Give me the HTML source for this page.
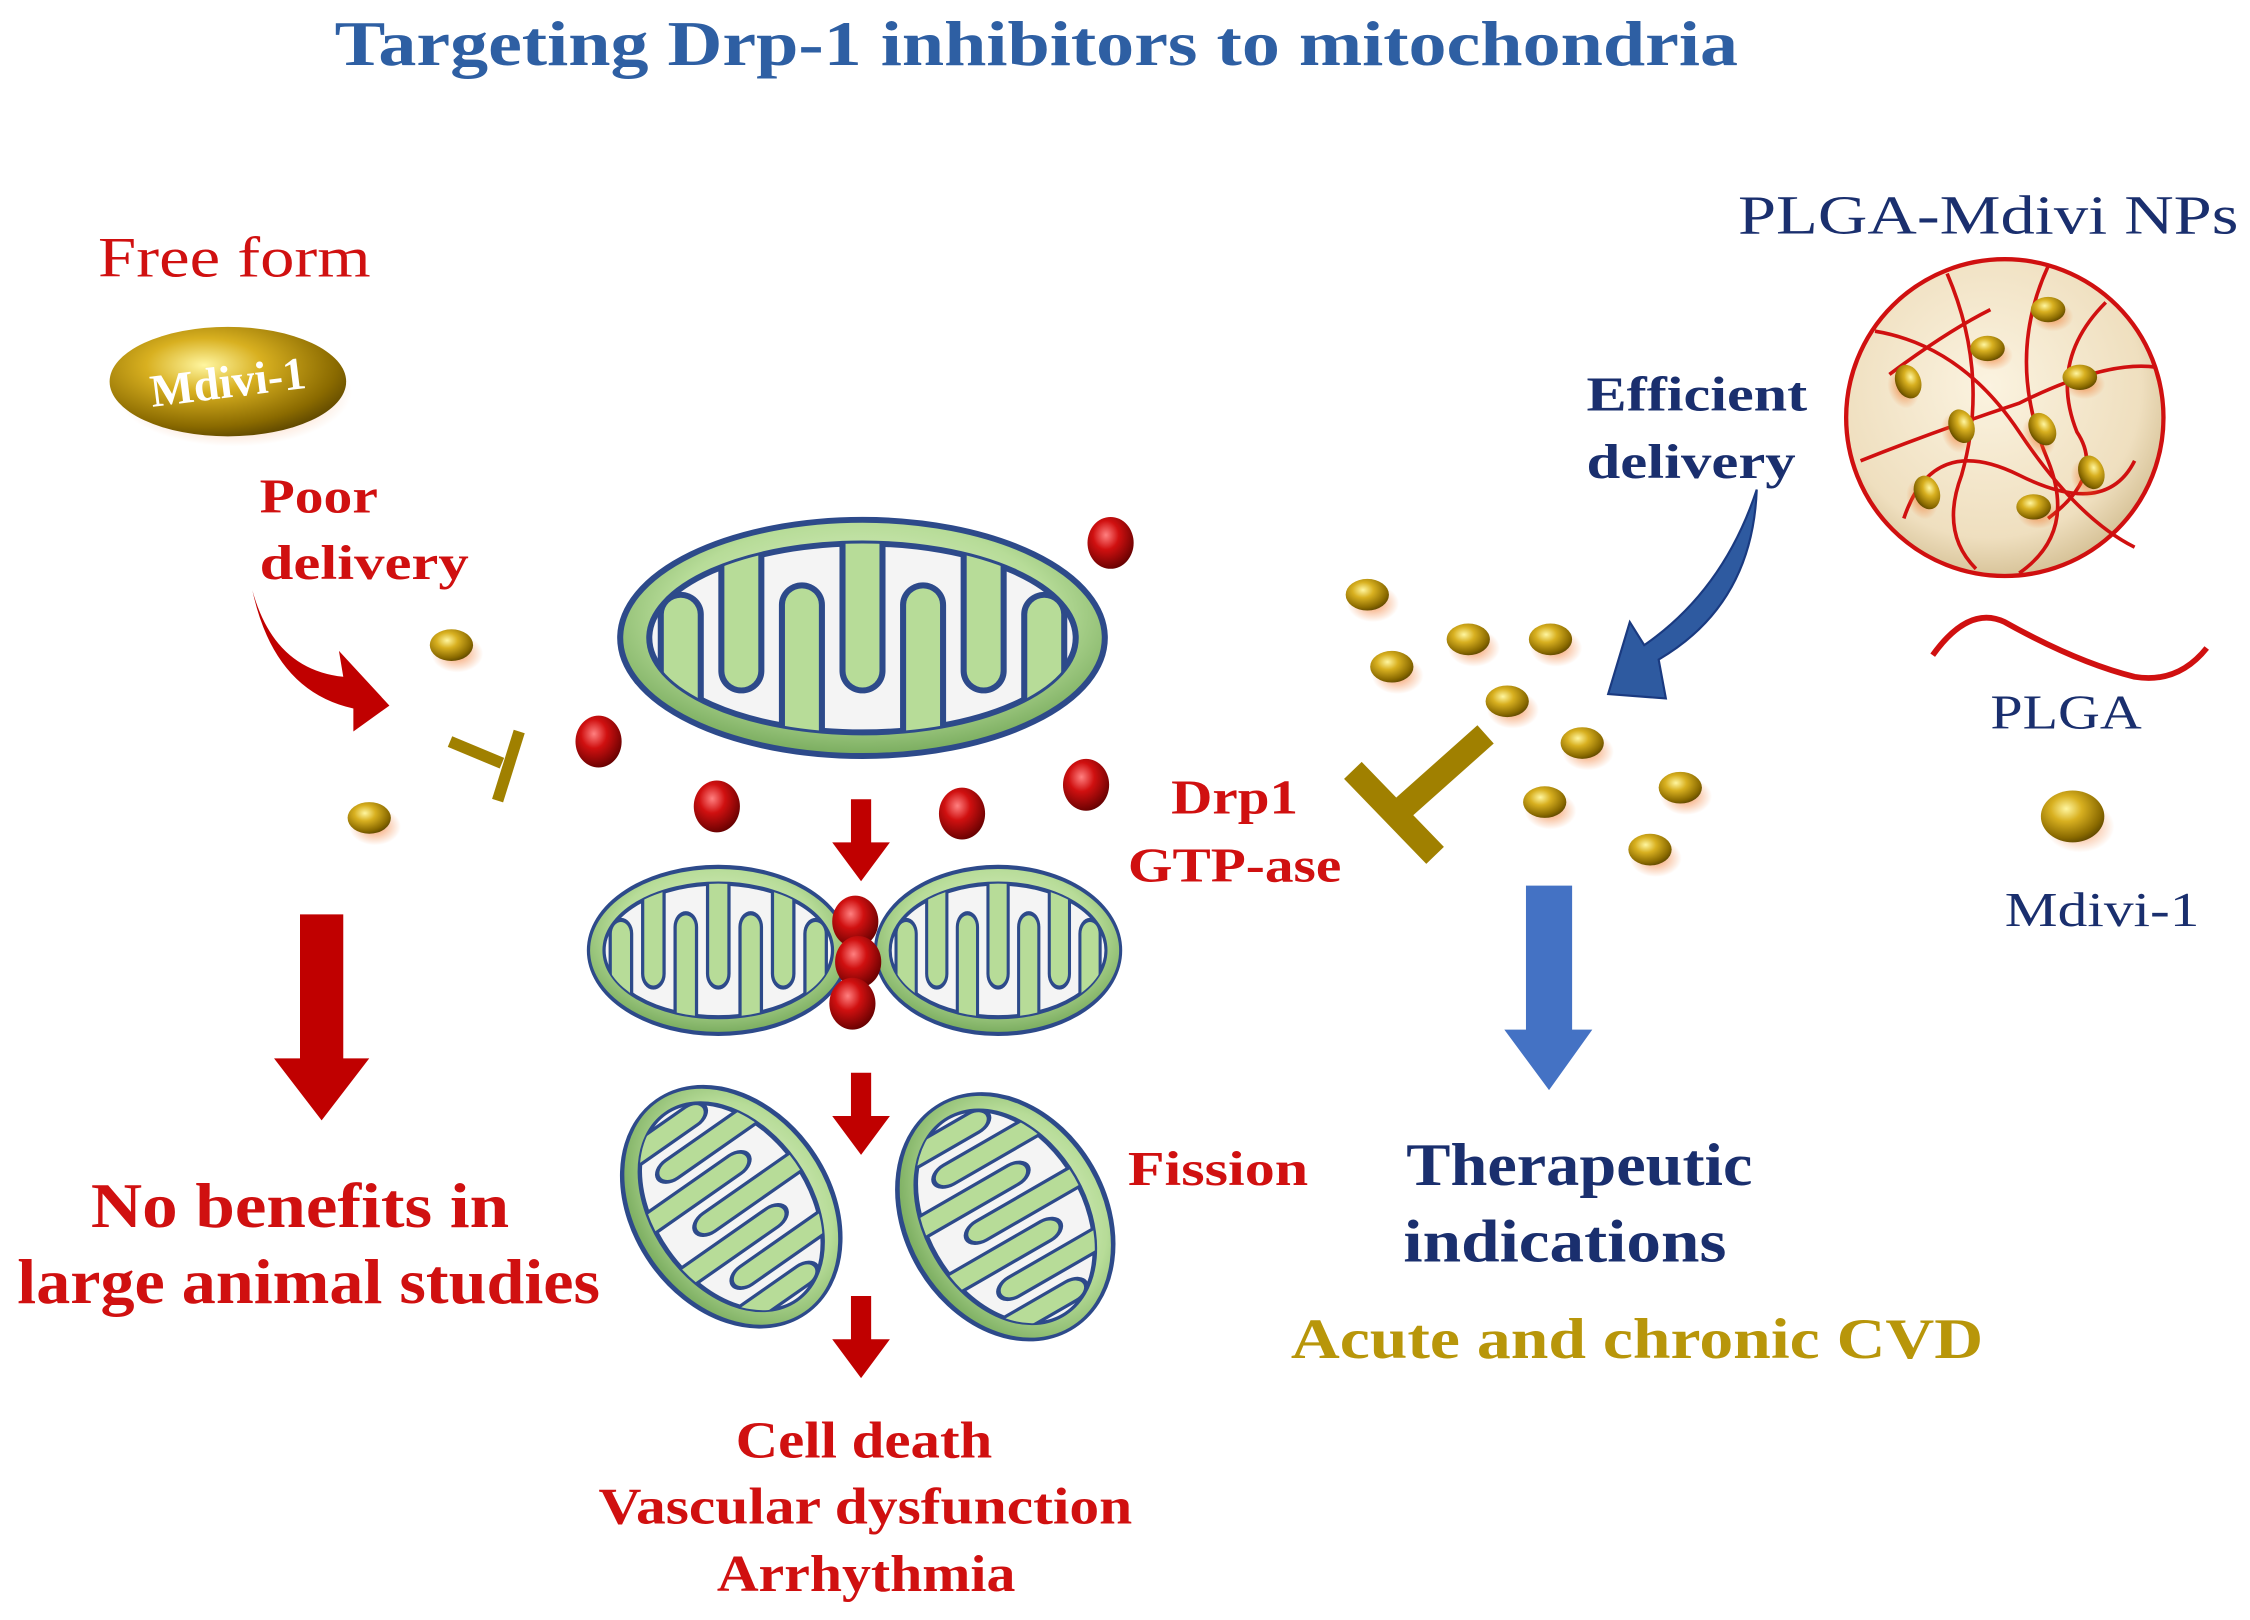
<!DOCTYPE html>
<html><head><meta charset="utf-8"><style>
html,body{margin:0;padding:0;background:#fff;}
svg{display:block}
text{font-family:"Liberation Serif",serif;}
</style></head><body>
<svg width="2250" height="1620" viewBox="0 0 1560 1125" preserveAspectRatio="none" xmlns="http://www.w3.org/2000/svg">
<defs>
<radialGradient id="gold" cx="0.4" cy="0.35" r="0.7">
<stop offset="0" stop-color="#fff6a0"/><stop offset="0.35" stop-color="#d8b020"/><stop offset="0.8" stop-color="#8a6a00"/><stop offset="1" stop-color="#5a4400"/></radialGradient>
<radialGradient id="red" cx="0.4" cy="0.35" r="0.7">
<stop offset="0" stop-color="#ff8080"/><stop offset="0.4" stop-color="#d01010"/><stop offset="1" stop-color="#600000"/></radialGradient>
<radialGradient id="green" cx="0.5" cy="0.4" r="0.65">
<stop offset="0" stop-color="#e6f4d4"/><stop offset="0.6" stop-color="#b7dc98"/><stop offset="1" stop-color="#6aa050"/></radialGradient>
<radialGradient id="cream" cx="0.45" cy="0.4" r="0.6">
<stop offset="0" stop-color="#fbf3e0"/><stop offset="0.8" stop-color="#efdfbf"/><stop offset="1" stop-color="#d8c49a"/></radialGradient>
<radialGradient id="shadow" cx="0.5" cy="0.5" r="0.5">
<stop offset="0" stop-color="#f07020" stop-opacity="0.7"/><stop offset="1" stop-color="#f07020" stop-opacity="0"/></radialGradient>
<clipPath id="inner"><ellipse cx="0" cy="0" rx="88" ry="40"/></clipPath>
<g id="mito">
<ellipse cx="0" cy="0" rx="100" ry="50" fill="url(#green)" stroke="#2d4a8a" stroke-width="2.5"/>
<ellipse cx="0" cy="0" rx="88" ry="40" fill="#f4f4f4" stroke="#2d4a8a" stroke-width="2.5"/>
<g clip-path="url(#inner)" stroke-linecap="round">
<g stroke="#2d4a8a" stroke-width="19">
<line x1="-50" y1="-45" x2="-50" y2="14"/><line x1="0" y1="-45" x2="0" y2="14"/><line x1="50" y1="-45" x2="50" y2="14"/>
<line x1="-75" y1="45" x2="-75" y2="-10"/><line x1="-25" y1="45" x2="-25" y2="-14"/><line x1="25" y1="45" x2="25" y2="-14"/><line x1="75" y1="45" x2="75" y2="-10"/>
</g>
<g stroke="#b7dc98" stroke-width="14">
<line x1="-50" y1="-45" x2="-50" y2="14"/><line x1="0" y1="-45" x2="0" y2="14"/><line x1="50" y1="-45" x2="50" y2="14"/>
<line x1="-75" y1="45" x2="-75" y2="-10"/><line x1="-25" y1="45" x2="-25" y2="-14"/><line x1="25" y1="45" x2="25" y2="-14"/><line x1="75" y1="45" x2="75" y2="-10"/>
</g></g></g>
<g id="gb">
<ellipse cx="4" cy="6" rx="18" ry="13" fill="url(#shadow)"/>
<ellipse cx="0" cy="0" rx="15" ry="11" fill="url(#gold)"/>
</g>
<g id="rb">
<ellipse cx="0" cy="0" rx="16" ry="18" fill="url(#red)"/>
</g>
</defs>

<text x="232" y="45" textLength="973" lengthAdjust="spacingAndGlyphs" font-size="44" font-weight="bold" fill="#2e5fa3">Targeting Drp-1 inhibitors to mitochondria</text>

<!-- left -->
<text x="68" y="192" textLength="189" lengthAdjust="spacingAndGlyphs" font-size="40" fill="#d01010">Free form</text>
<ellipse cx="162" cy="272" rx="82" ry="38" fill="url(#shadow)"/>
<ellipse cx="158" cy="265" rx="82" ry="38" fill="url(#gold)"/>
<text x="158" y="276" text-anchor="middle" font-size="32" font-weight="bold" fill="#fff" transform="rotate(-7 158 265)">Mdivi-1</text>
<text x="180" y="356" textLength="82" lengthAdjust="spacingAndGlyphs" font-size="34" font-weight="bold" fill="#d01010">Poor</text>
<text x="180" y="402" textLength="145" lengthAdjust="spacingAndGlyphs" font-size="34" font-weight="bold" fill="#d01010">delivery</text>
<path d="M175,410 Q190,465 238,470 L235,452 L270,490 L245,508 L245,492 Q190,480 175,410 Z" fill="#c00000"/>
<use href="#gb" x="313" y="448"/>
<use href="#gb" x="256" y="568"/>
<line x1="312" y1="515" x2="348" y2="530" stroke="#a08000" stroke-width="8"/>
<line x1="360" y1="508" x2="345" y2="556" stroke="#a08000" stroke-width="8"/>
<polygon points="208,635 238,635 238,735 256,735 223,778 190,735 208,735" fill="#c00000"/>
<text x="63" y="852" textLength="290" lengthAdjust="spacingAndGlyphs" font-size="44" font-weight="bold" fill="#d01010">No benefits in</text>
<text x="12" y="905" textLength="404" lengthAdjust="spacingAndGlyphs" font-size="44" font-weight="bold" fill="#d01010">large animal studies</text>

<!-- center -->
<use href="#mito" transform="translate(598,443) scale(1.68,1.64)"/>
<use href="#rb" x="770" y="377"/>
<use href="#rb" x="415" y="515"/>
<use href="#rb" x="497" y="560"/>
<use href="#rb" x="667" y="565"/>
<use href="#rb" x="753" y="545"/>
<polygon points="590,555 604,555 604,585 617,585 597,612 577,585 590,585" fill="#c00000"/>
<use href="#mito" transform="translate(498,660) scale(0.9,1.16)"/>
<use href="#mito" transform="translate(692,660) scale(0.85,1.16)"/>
<use href="#rb" x="593" y="640"/>
<use href="#rb" x="595" y="668"/>
<use href="#rb" x="591" y="697"/>
<polygon points="590,745 604,745 604,775 617,775 597,802 577,775 590,775" fill="#c00000"/>
<use href="#mito" transform="translate(507,838) rotate(55) scale(0.9,1.35)"/>
<use href="#mito" transform="translate(697,845) rotate(60) scale(0.9,1.38)"/>
<polygon points="590,900 604,900 604,930 617,930 597,957 577,930 590,930" fill="#c00000"/>
<text x="510" y="1012" textLength="178" lengthAdjust="spacingAndGlyphs" font-size="36" font-weight="bold" fill="#d01010">Cell death</text>
<text x="415" y="1058" textLength="370" lengthAdjust="spacingAndGlyphs" font-size="36" font-weight="bold" fill="#d01010">Vascular dysfunction</text>
<text x="497" y="1105" textLength="207" lengthAdjust="spacingAndGlyphs" font-size="36" font-weight="bold" fill="#d01010">Arrhythmia</text>
<text x="782" y="823" textLength="125" lengthAdjust="spacingAndGlyphs" font-size="34" font-weight="bold" fill="#d01010">Fission</text>
<text x="812" y="565" textLength="88" lengthAdjust="spacingAndGlyphs" font-size="34" font-weight="bold" fill="#d01010">Drp1</text>
<text x="782" y="612" textLength="148" lengthAdjust="spacingAndGlyphs" font-size="34" font-weight="bold" fill="#d01010">GTP-ase</text>

<!-- right -->
<line x1="1030" y1="510" x2="965" y2="568" stroke="#a08000" stroke-width="17"/>
<line x1="938" y1="535" x2="995" y2="594" stroke="#a08000" stroke-width="17"/>
<use href="#gb" x="948" y="413"/>
<use href="#gb" x="965" y="463"/>
<use href="#gb" x="1018" y="444"/>
<use href="#gb" x="1075" y="444"/>
<use href="#gb" x="1045" y="487"/>
<use href="#gb" x="1097" y="516"/>
<use href="#gb" x="1165" y="547"/>
<use href="#gb" x="1071" y="557"/>
<use href="#gb" x="1144" y="590"/>
<polygon points="1058,615 1090,615 1090,715 1104,715 1074,757 1043,715 1058,715" fill="#4472c4"/>
<text x="975" y="823" textLength="240" lengthAdjust="spacingAndGlyphs" font-size="42" font-weight="bold" fill="#1a2f6e">Therapeutic</text>
<text x="973" y="876" textLength="224" lengthAdjust="spacingAndGlyphs" font-size="42" font-weight="bold" fill="#1a2f6e">indications</text>
<text x="895" y="943" textLength="480" lengthAdjust="spacingAndGlyphs" font-size="40" font-weight="bold" fill="#b8960a">Acute and chronic CVD</text>

<text x="1205" y="162" textLength="347" lengthAdjust="spacingAndGlyphs" font-size="38" fill="#1a2f6e">PLGA-Mdivi NPs</text>
<circle cx="1390" cy="290" r="110" fill="url(#cream)" stroke="#d01010" stroke-width="3"/>
<g fill="none" stroke="#d01010" stroke-width="2.5">
<path d="M1300,230 Q1360,240 1400,300 Q1440,360 1480,380"/>
<path d="M1350,190 Q1380,260 1360,330 Q1345,370 1370,395"/>
<path d="M1290,320 Q1340,300 1400,280 Q1460,250 1495,255"/>
<path d="M1420,185 Q1390,250 1420,320 Q1440,370 1400,398"/>
<path d="M1320,360 Q1340,300 1400,330 Q1460,360 1480,320"/>
<path d="M1460,210 Q1420,250 1440,300 Q1460,330 1420,360"/>
<path d="M1310,260 Q1350,230 1380,215"/>
</g>
<use href="#gb" transform="translate(1420,215) scale(0.8)"/>
<use href="#gb" transform="translate(1378,242) scale(0.8)"/>
<use href="#gb" transform="translate(1323,265) rotate(70) scale(0.8)"/>
<use href="#gb" transform="translate(1442,262) scale(0.8)"/>
<use href="#gb" transform="translate(1360,296) rotate(70) scale(0.8)"/>
<use href="#gb" transform="translate(1416,298) rotate(60) scale(0.8)"/>
<use href="#gb" transform="translate(1450,328) rotate(70) scale(0.8)"/>
<use href="#gb" transform="translate(1336,342) rotate(70) scale(0.8)"/>
<use href="#gb" transform="translate(1410,352) scale(0.8)"/>
<text x="1100" y="285" textLength="153" lengthAdjust="spacingAndGlyphs" font-size="34" font-weight="bold" fill="#1a2f6e">Efficient</text>
<text x="1100" y="332" textLength="145" lengthAdjust="spacingAndGlyphs" font-size="34" font-weight="bold" fill="#1a2f6e">delivery</text>
<path d="M1218,340 Q1215,420 1150,458 L1155,485 L1115,482 L1130,432 L1140,448 Q1195,410 1218,340 Z" fill="#2e5aa0" stroke="#1a3a80" stroke-width="1.5"/>
<path d="M1340,455 Q1365,420 1390,432 Q1440,460 1480,470 Q1510,475 1530,450" fill="none" stroke="#d01010" stroke-width="4"/>
<text x="1380" y="506" textLength="105" lengthAdjust="spacingAndGlyphs" font-size="34" fill="#1a2f6e">PLGA</text>
<ellipse cx="1442" cy="574" rx="24" ry="18" fill="url(#shadow)"/>
<ellipse cx="1437" cy="567" rx="22" ry="18" fill="url(#gold)"/>
<text x="1390" y="643" textLength="135" lengthAdjust="spacingAndGlyphs" font-size="34" fill="#1a2f6e">Mdivi-1</text>
</svg>
</body></html>
